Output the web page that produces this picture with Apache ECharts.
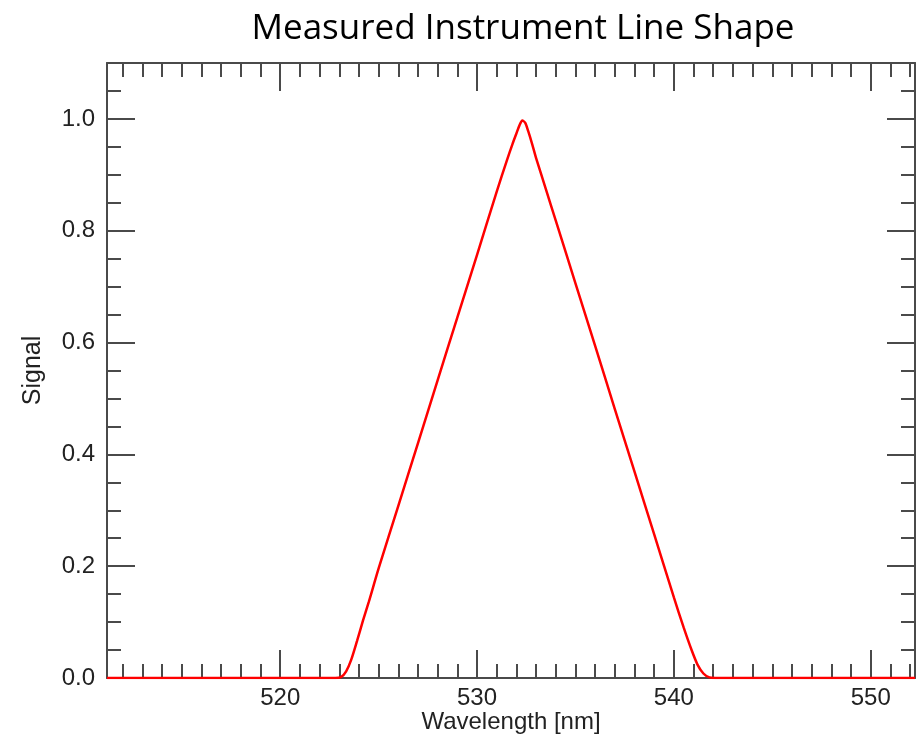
<!DOCTYPE html>
<html>
<head>
<meta charset="utf-8">
<script src="https://cdn.jsdelivr.net/npm/echarts@6/dist/echarts.min.js"></script>
<style>
html,body{margin:0;padding:0;background:#fff;}
#main{width:924px;height:737px;}
</style>
</head>
<body>
<div id="main"></div>
<script>
// 波长 (nm)
var wavelength = [511.2, 522.8, 523.1, 523.35, 523.6, 523.9, 524.2, 524.5, 525, 526, 527, 528, 529, 530, 531, 531.5, 531.8, 532, 532.15, 532.3, 532.45, 532.6, 532.8, 533, 533.5, 534, 535, 536, 537, 538, 539, 540, 540.5, 540.9, 541.2, 541.5, 541.8, 542.1, 552.25];
// 信号
var signal = [0, 0, 0.002, 0.012, 0.032, 0.066, 0.102, 0.136, 0.196, 0.308, 0.42, 0.533, 0.645, 0.757, 0.87, 0.924, 0.955, 0.974, 0.988, 0.997, 0.993, 0.978, 0.955, 0.93, 0.874, 0.818, 0.706, 0.594, 0.481, 0.369, 0.257, 0.144, 0.09, 0.05, 0.024, 0.008, 0.001, 0, 0];

var xMin = 511.2, xMax = 552.25;
var yMin = 0, yMax = 1.1;

var pts = [];
for (var i = 0; i < wavelength.length; i++) {
	pts.push([wavelength[i], signal[i]]);
}

var axisCol = '#4a4a4a';
var nameFont = {fontFamily: 'Liberation Sans', fontSize: 25, color: '#222'};

function xAx(pos, showLabel){
	return {
		type: 'value', position: pos, min: xMin, max: xMax, splitNumber: 4,
		name: showLabel ? 'Wavelength [nm]' : '', nameLocation: 'middle', nameGap: 32, nameMoveOverlap: false,
		nameTextStyle: {fontFamily: 'Liberation Sans', fontSize: 24, color: '#222', verticalAlign: 'top'},
		axisLine: {show: true, onZero: false, lineStyle: {color: axisCol, width: 2}},
		axisTick: {show: true, inside: true, length: 28, lineStyle: {color: axisCol, width: 2}},
		minorTick: {show: true, splitNumber: 10, length: 14, lineStyle: {color: axisCol, width: 2}},
		axisLabel: {show: showLabel, margin: 8, fontFamily: 'Liberation Sans', fontSize: 24, color: '#222',
			formatter: function(v){ return Math.abs(v % 10) < 1e-6 ? String(v) : ''; }},
		splitLine: {show: false}
	};
}
function yAx(pos, showLabel){
	return {
		type: 'value', position: pos, min: yMin, max: yMax, interval: 0.2,
		name: showLabel ? 'Signal' : '', nameLocation: 'middle', nameGap: 61,
		nameTextStyle: nameFont,
		axisLine: {show: true, onZero: false, lineStyle: {color: axisCol, width: 2}},
		axisTick: {show: true, inside: true, length: 28, lineStyle: {color: axisCol, width: 2}},
		minorTick: {show: true, splitNumber: 4, length: 14, lineStyle: {color: axisCol, width: 2}},
		axisLabel: {show: showLabel, margin: 12, fontFamily: 'Liberation Sans', fontSize: 24, color: '#222',
			formatter: function(v){ return v > 1.05 ? '' : v.toFixed(1); }},
		splitLine: {show: false}
	};
}

var chart = echarts.init(document.getElementById('main'));
chart.setOption({
	animation: false,
	backgroundColor: '#fff',
	title: {
		text: 'Measured Instrument Line Shape', left: 518, top: 7, textAlign: 'center',
		textStyle: {fontFamily: 'Open Sans', fontSize: 35, fontWeight: 'normal', color: '#000'}
	},
	grid: {left: 107, right: 9, top: 63, bottom: 59, containLabel: false, outerBoundsMode: 'none'},
	xAxis: [xAx('bottom', true), xAx('top', false)],
	yAxis: [yAx('left', true), yAx('right', false)],
	series: [{
		type: 'line', data: pts, smooth: 0.25, showSymbol: false,
		lineStyle: {color: '#ff0000', width: 2.5}, itemStyle: {color: '#ff0000'}, z: 5
	}]
});
</script>
</body>
</html>
